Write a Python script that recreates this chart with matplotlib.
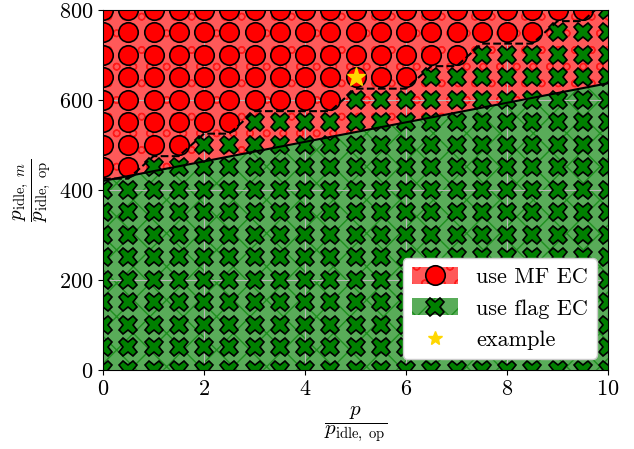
import matplotlib.pyplot as plt
from matplotlib.lines import Line2D
from matplotlib.patches import Patch

# grid of evaluated points
p_values = [0, 0.5, 1, 1.5, 2, 2.5, 3, 3.5, 4, 4.5, 5,
            5.5, 6, 6.5, 7, 7.5, 8, 8.5, 9, 9.5, 10]
idle_values = [0, 50, 100, 150, 200, 250, 300, 350, 400,
               450, 500, 550, 600, 650, 700, 750, 800]

# lowest idle ratio at which MF EC wins, per p column (850 = never)
thresholds = [450, 450, 500, 500, 550, 550, 600, 600, 600, 600, 650,
              650, 650, 700, 700, 750, 750, 750, 800, 800, 850]

# dashed staircase (between last flag point and first MF point)
step_y = [425, 425, 475, 475, 525, 525, 575, 575, 575, 575, 625,
          625, 625, 675, 675, 725, 725, 725, 775, 775, 825]

# analytic boundary
boundary_x = [0, 10]
boundary_y = [420, 637]

example_x = [5]
example_y = [650]

plt.rcParams['font.family'] = 'cmr10'
plt.rcParams['mathtext.fontset'] = 'cm'
plt.rcParams['axes.formatter.use_mathtext'] = True
plt.rcParams['font.size'] = 16

fig, ax = plt.subplots(figsize=(6.34, 4.49), dpi=100)
fig.subplots_adjust(left=0.1625, right=0.959, bottom=0.176, top=0.978)

ax.fill_between(boundary_x, boundary_y, 800, color='red', alpha=0.65, hatch='o', lw=0)
ax.fill_between(boundary_x, 0, boundary_y, color='green', alpha=0.65, hatch='x', lw=0)

mf_x, mf_y, fl_x, fl_y = [], [], [], []
for x, thr in zip(p_values, thresholds):
	for y in idle_values:
		if y >= thr:
			mf_x.append(x)
			mf_y.append(y)
		else:
			fl_x.append(x)
			fl_y.append(y)

ax.plot(mf_x, mf_y, 'o', color='red', mec='black', ms=14, mew=1.2, zorder=2)
ax.plot(fl_x, fl_y, 'X', color='green', mec='black', ms=13.5, mew=1.2, zorder=2)

ax.plot(p_values, step_y, '--', color='black', lw=1.5, zorder=3)
ax.plot(boundary_x, boundary_y, '-', color='black', lw=1.5, zorder=3)
ax.plot(example_x, example_y, '*', color='gold', ms=14, zorder=4)

ax.set_xlim(0, 10)
ax.set_ylim(0, 800)
ax.set_xticks([0, 2, 4, 6, 8, 10])
ax.set_yticks([0, 200, 400, 600, 800])
ax.grid(True, color='#b8b8b8', lw=0.8)

ax.set_xlabel(r'$\dfrac{p}{p_{\mathrm{idle,\ op}}}$', fontsize=15)
ax.set_ylabel(r'$\dfrac{p_{\mathrm{idle},\ m}}{p_{\mathrm{idle,\ op}}}$', fontsize=15)

handles = [
	(Patch(facecolor='red', edgecolor='red', alpha=0.65, hatch='o', lw=0),
	 Line2D([], [], marker='o', color='red', mec='black', ms=14, mew=1.2, ls='none')),
	(Patch(facecolor='green', edgecolor='green', alpha=0.65, hatch='x', lw=0),
	 Line2D([], [], marker='X', color='green', mec='black', ms=13.5, mew=1.2, ls='none')),
	Line2D([], [], marker='*', color='gold', ms=10, ls='none'),
]
ax.legend(handles, ['use MF EC', 'use flag EC', 'example'], loc='lower right',
		  framealpha=1, handlelength=2.1, handleheight=0.8, fontsize=16)

fig.savefig('out.png', dpi=100)
